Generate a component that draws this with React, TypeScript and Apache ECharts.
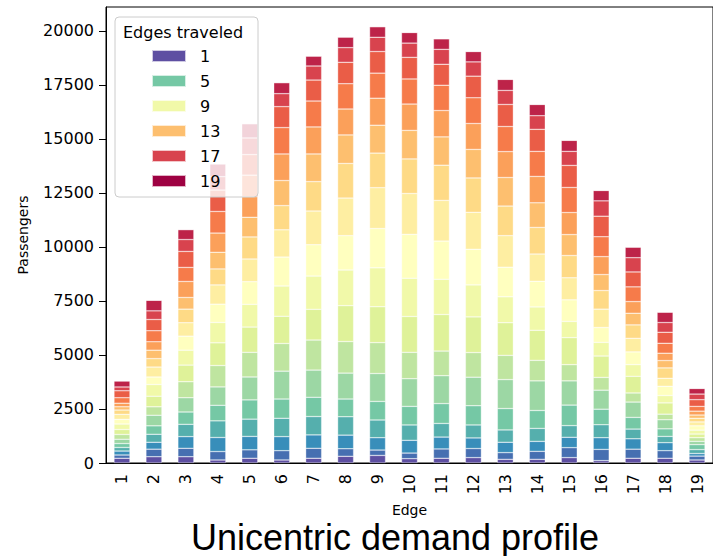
import React, { useEffect, useRef } from 'react';
import * as echarts from 'echarts';

const edges = ['1', '2', '3', '4', '5', '6', '7', '8', '9', '10', '11', '12', '13', '14', '15', '16', '17', '18', '19'];
const yTicks = [0, 2500, 5000, 7500, 10000, 12500, 15000, 17500, 20000];
const legendShown = ['1', '5', '9', '13', '17', '19'];

// passengers per edge, split by number of edges traveled
const traveled1 = [220, 290, 290, 140, 220, 140, 220, 310, 350, 200, 220, 250, 170, 170, 250, 110, 220, 220, 140];
const traveled2 = [150, 350, 390, 390, 390, 430, 460, 350, 250, 260, 430, 420, 310, 370, 460, 520, 420, 350, 180];
const traveled3 = [180, 320, 540, 650, 620, 650, 620, 630, 570, 590, 550, 490, 480, 460, 480, 540, 480, 370, 120];
const traveled4 = [170, 370, 570, 770, 800, 850, 850, 850, 820, 710, 630, 600, 570, 600, 540, 600, 450, 290, 180];
const traveled5 = [180, 390, 570, 720, 890, 890, 890, 820, 860, 860, 920, 890, 990, 830, 950, 720, 540, 350, 230];
const traveled6 = [200, 490, 660, 850, 1060, 1290, 1260, 1200, 1290, 1280, 1290, 1320, 1340, 1370, 1120, 880, 710, 420, 150];
const traveled7 = [220, 390, 740, 990, 1140, 1280, 1390, 1460, 1430, 1220, 1140, 1140, 1120, 950, 750, 590, 420, 260, 170];
const traveled8 = [230, 490, 770, 1050, 1170, 1260, 1420, 1660, 1660, 1660, 1690, 1650, 1510, 1390, 1250, 990, 770, 520, 170];
const traveled9 = [250, 540, 690, 940, 1050, 1400, 1540, 1650, 1800, 1770, 1630, 1480, 1200, 1080, 750, 630, 540, 340, 180];
const traveled10 = [220, 350, 650, 850, 1050, 1340, 1450, 1590, 1820, 2030, 1770, 1650, 1370, 1190, 1000, 690, 590, 430, 200];
const traveled11 = [230, 460, 620, 890, 1050, 1260, 1560, 1740, 1890, 1890, 1880, 1710, 1460, 1260, 1020, 850, 630, 370, 180];
const traveled12 = [200, 390, 630, 740, 1020, 1120, 1360, 1600, 1600, 1600, 1630, 1590, 1370, 1230, 1030, 860, 620, 480, 170];
const traveled13 = [150, 390, 540, 770, 910, 1160, 1280, 1320, 1290, 1320, 1310, 1320, 1320, 1140, 970, 740, 540, 340, 150];
const traveled14 = [170, 390, 740, 890, 950, 1230, 1250, 1200, 1250, 1220, 1220, 1200, 1200, 1220, 1020, 830, 540, 340, 180];
const traveled15 = [250, 510, 650, 1000, 1000, 1220, 1200, 1170, 1160, 1160, 1170, 1190, 1160, 1160, 1160, 920, 680, 460, 220];
const traveled16 = [320, 520, 740, 990, 950, 970, 970, 990, 1000, 1000, 970, 1000, 1020, 1020, 1020, 950, 690, 510, 310];
const traveled17 = [180, 400, 550, 620, 770, 600, 650, 680, 660, 660, 690, 660, 650, 630, 650, 710, 660, 450, 260];
const traveled18 = [280, 490, 460, 590, 660, 510, 460, 490, 490, 490, 490, 480, 510, 520, 510, 480, 490, 480, 260];
const traveled19 = [0, 0, 0, 0, 0, 0, 0, 0, 0, 0, 0, 0, 0, 0, 0, 0, 0, 0, 0];

const traveledSeries = [
  traveled1, traveled2, traveled3, traveled4, traveled5, traveled6, traveled7, traveled8, traveled9, traveled10,
  traveled11, traveled12, traveled13, traveled14, traveled15, traveled16, traveled17, traveled18, traveled19,
];

const spectral = ['#9e0142', '#d53e4f', '#f46d43', '#fdae61', '#fee08b', '#ffffbf', '#e6f598', '#abdda4', '#66c2a5', '#3288bd', '#5e4fa2'];

function hexToRgb(h: string) {
  return [parseInt(h.slice(1, 3), 16), parseInt(h.slice(3, 5), 16), parseInt(h.slice(5, 7), 16)];
}

function spectralR(t: number) {
  const s = 1 - t;
  const p = s * 10;
  const i = Math.min(9, Math.floor(p));
  const f = p - i;
  const a = hexToRgb(spectral[i]);
  const b = hexToRgb(spectral[i + 1]);
  const c = a.map((v, k) => Math.round(v + (b[k] - v) * f));
  return `rgb(${c[0]},${c[1]},${c[2]})`;
}

export default function App() {
  const ref = useRef<HTMLDivElement>(null);

  useEffect(() => {
    if (!ref.current) return;
    const chart = echarts.init(ref.current, undefined, { renderer: 'svg' });
    const n = traveledSeries.length;
    const font = 'DejaVu Sans';
    chart.setOption({
      animation: false,
      backgroundColor: '#ffffff',
      grid: { left: 106, top: 7, right: 0, bottom: 93, show: true, borderColor: '#000', borderWidth: 1 },
      legend: {
        data: legendShown,
        orient: 'vertical',
        left: 151,
        top: 48,
        padding: 0,
        itemWidth: 34,
        itemHeight: 12,
        itemGap: 9,
        icon: 'rect',
        selectedMode: false,
        textStyle: { fontFamily: font, fontSize: 16, color: '#000', lineHeight: 16, padding: [0, 0, 0, 9] },
        z: 6,
      },
      xAxis: {
        type: 'category',
        data: edges,
        name: 'Edge',
        nameLocation: 'middle',
        nameGap: 37,
        nameTextStyle: { fontFamily: font, fontSize: 14, lineHeight: 15, color: '#000' },
        axisLine: { lineStyle: { color: '#000', width: 1 } },
        axisTick: { alignWithLabel: true, length: 7, lineStyle: { color: '#000' } },
        axisLabel: { rotate: 90, fontFamily: font, fontSize: 16, color: '#000', margin: 11 },
      },
      yAxis: {
        type: 'value',
        min: 0,
        max: 21100,
        interval: 2500,
        name: 'Passengers',
        nameLocation: 'middle',
        nameGap: 76,
        nameTextStyle: { fontFamily: font, fontSize: 14, color: '#000' },
        axisLine: { show: true, lineStyle: { color: '#000', width: 1 } },
        axisTick: { show: true, length: 7, lineStyle: { color: '#000' }, customValues: yTicks },
        axisLabel: {
          fontFamily: font, fontSize: 16, color: '#000', margin: 12,
          customValues: yTicks,
          formatter: (v: number) => String(v),
        },
        splitLine: { show: false },
      },
      graphic: [
        {
          type: 'rect',
          z: 5,
          shape: { x: 115, y: 17, width: 143, height: 180, r: 4 },
          style: { fill: 'rgba(255,255,255,0.8)', stroke: '#cccccc', lineWidth: 1 },
        },
        {
          type: 'text',
          z: 7,
          x: 123,
          y: 32,
          style: { text: 'Edges traveled', fontFamily: font, fontSize: 16, fill: '#000', verticalAlign: 'middle', textVerticalAlign: 'middle' },
        },
        {
          type: 'text',
          z: 7,
          x: 395,
          y: 537,
          style: {
            text: 'Unicentric demand profile', fontFamily: 'Liberation Sans', fontSize: 36, lineHeight: 36, fill: '#000',
            align: 'center', verticalAlign: 'middle', textAlign: 'center', textVerticalAlign: 'middle',
          },
        },
      ],
      series: traveledSeries.map((vals, idx) => ({
        name: String(idx + 1),
        type: 'bar',
        stack: 'total',
        barWidth: '50%',
        data: vals,
        itemStyle: {
          color: spectralR(idx / (n - 1)),
          borderColor: 'rgba(255,255,255,0.7)',
          borderWidth: 0.5,
        },
        emphasis: { disabled: true },
      })),
    });
    return () => chart.dispose();
  }, []);

  return <div ref={ref} style={{ position: 'fixed', left: 0, top: 0, width: 713, height: 556 }} />;
}
